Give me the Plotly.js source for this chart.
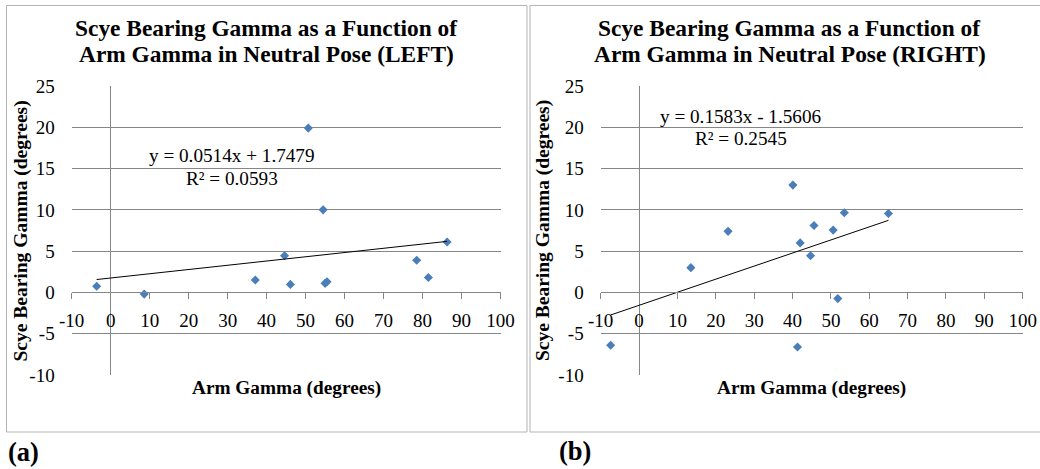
<!DOCTYPE html>
<html>
<head>
<meta charset="utf-8">
<script src="https://cdn.plot.ly/plotly-3.0.1.min.js"></script>
<style>
html,body{margin:0;padding:0;background:#fff;}
#chart{width:1040px;height:469px;}
</style>
</head>
<body>
<div id="chart"></div>
<script>
// ---- data ----
const leftX  = [-3.6, 8.6, 37.1, 44.6, 46.1, 50.7, 54.5, 55.0, 55.5, 78.5, 81.5, 86.3];
const leftY  = [0.75, -0.2, 1.5, 4.45, 0.97, 19.9, 10.0, 1.1, 1.3, 3.9, 1.8, 6.1];
const rightX = [-7.4, 13.5, 23.2, 40.1, 41.3, 42.0, 44.7, 45.6, 50.6, 51.8, 53.5, 65.0];
const rightY = [-6.4, 3.0, 7.4, 13.0, -6.6, 6.0, 4.45, 8.1, 7.55, -0.75, 9.65, 9.55];
const leftFit  = {slope: 0.0514, intercept: 1.7479, r2: '0.0593'};
const rightFit = {slope: 0.1583, intercept: -1.5606, r2: '0.2545'};
const xTickVals = [-10, 0, 10, 20, 30, 40, 50, 60, 70, 80, 90, 100];
const xTickText = ['-10', '0', '10', '20', '30', '40', '50', '60', '70', '80', '90', '100'];
const yTickVals = [-10, -5, 0, 5, 10, 15, 20, 25];
const yTickText = ['-10', '-5', '0', '5', '10', '15', '20', '25'];
const titleLeft  = ['Scye Bearing Gamma as a Function of', 'Arm Gamma in Neutral Pose (LEFT)'];
const titleRight = ['Scye Bearing Gamma as a Function of', 'Arm Gamma in Neutral Pose (RIGHT)'];
const xTitle = 'Arm Gamma (degrees)';
const yTitle = 'Scye Bearing Gamma (degrees)';
const panelLabels = ['(a)', '(b)'];

// ---- layout helpers ----
const W = 1040, H = 469;
const px = v => v / W;
const py = v => 1 - v / H;
const FONT = 'Liberation Serif';
const GRID = '#868686';
const MARK = '#4A7EBB';
const xRange = [-10, 100], yRange = [-10, 25];
const yDom = [py(375), py(86)];
const xDomL = [px(71.7), px(500.5)];
const xDomR = [px(600.7), px(1022.7)];
const zeroPos = yDom[0] + (0 - yRange[0]) / (yRange[1] - yRange[0]) * (yDom[1] - yDom[0]);

function fitLine(xs, fit) {
  const x0 = Math.min(...xs), x1 = Math.max(...xs);
  return {x: [x0, x1], y: [fit.slope * x0 + fit.intercept, fit.slope * x1 + fit.intercept]};
}
const fl = fitLine(leftX, leftFit), fr = fitLine(rightX, rightFit);
function eqLines(fit) {
  const sign = fit.intercept < 0 ? ' - ' : ' + ';
  return ['y = ' + fit.slope.toFixed(4) + 'x' + sign + Math.abs(fit.intercept).toFixed(4), 'R² = ' + fit.r2];
}

const traces = [
  {x: leftX, y: leftY, xaxis: 'x', yaxis: 'y', type: 'scatter', mode: 'markers',
   marker: {symbol: 'diamond', size: 7, color: MARK}, hoverinfo: 'none'},
  {x: fl.x, y: fl.y, xaxis: 'x', yaxis: 'y', type: 'scatter', mode: 'lines',
   line: {color: '#000', width: 1}, hoverinfo: 'none'},
  {x: rightX, y: rightY, xaxis: 'x2', yaxis: 'y2', type: 'scatter', mode: 'markers',
   marker: {symbol: 'diamond', size: 7, color: MARK}, hoverinfo: 'none'},
  {x: fr.x, y: fr.y, xaxis: 'x2', yaxis: 'y2', type: 'scatter', mode: 'lines',
   line: {color: '#000', width: 1}, hoverinfo: 'none'}
];

function xAxis(dom) {
  return {domain: dom, range: xRange, anchor: 'free', position: zeroPos,
    tickvals: xTickVals, ticktext: xTickText, showgrid: false,
    zeroline: true, zerolinecolor: GRID, zerolinewidth: 1,
    showline: true, linecolor: GRID, linewidth: 1,
    ticks: 'outside', ticklen: 6, tickcolor: GRID, tickwidth: 1, ticklabelstandoff: 5,
    tickfont: {family: FONT, size: 19, color: '#000'}, fixedrange: true};
}
function yAxis(anchor) {
  return {domain: yDom, range: yRange, anchor: anchor,
    tickvals: yTickVals, ticktext: yTickText,
    showgrid: true, gridcolor: GRID, gridwidth: 1, zeroline: false, showline: false,
    ticks: '', ticklabelstandoff: 16,
    tickfont: {family: FONT, size: 19, color: '#000'}, fixedrange: true};
}

const ann = (x, y, text, size, opts) => Object.assign({xref: 'paper', yref: 'paper', x: px(x), y: py(y),
  text: text, showarrow: false, xanchor: 'center', yanchor: 'middle',
  font: {family: FONT, size: size, color: '#000'}}, opts || {});

const eqL = eqLines(leftFit), eqR = eqLines(rightFit);
const annotations = [
  ann(266.3, 28, '<b>' + titleLeft[0] + '</b>', 23.4),
  ann(266.3, 53.5, '<b>' + titleLeft[1] + '</b>', 23.4),
  ann(789.6, 28, '<b>' + titleRight[0] + '</b>', 23.4),
  ann(789.6, 53.5, '<b>' + titleRight[1] + '</b>', 23.4),
  ann(232, 156, eqL[0], 19.2),
  ann(232, 179, eqL[1], 19.2),
  ann(741, 116, eqR[0], 19.2),
  ann(741, 138.5, eqR[1], 19.2),
  ann(286, 388, '<b>' + xTitle + '</b>', 19.3),
  ann(811.7, 388, '<b>' + xTitle + '</b>', 19.3),
  ann(20.5, 231, '<b>' + yTitle + '</b>', 19.5, {textangle: -90}),
  ann(543, 231, '<b>' + yTitle + '</b>', 19.5, {textangle: -90}),
  ann(6, 452, '<b>' + panelLabels[0] + '</b>', 26.5, {xanchor: 'left'}),
  ann(557, 451, '<b>' + panelLabels[1] + '</b>', 26.5, {xanchor: 'left'})
];

const shapes = [
  {type: 'rect', xref: 'paper', yref: 'paper', x0: px(6.5), x1: px(527), y0: py(432), y1: py(5.5),
   line: {color: '#B3B3B3', width: 1}},
  {type: 'rect', xref: 'paper', yref: 'paper', x0: px(530), x1: px(1045), y0: py(432), y1: py(5.5),
   line: {color: '#B3B3B3', width: 1}}
];

const layout = {
  width: W, height: H, margin: {l: 0, r: 0, t: 0, b: 0},
  paper_bgcolor: '#fff', plot_bgcolor: 'rgba(0,0,0,0)', showlegend: false,
  font: {family: FONT},
  xaxis: xAxis(xDomL), yaxis: yAxis('x'),
  xaxis2: xAxis(xDomR), yaxis2: yAxis('x2'),
  annotations: annotations, shapes: shapes
};

Plotly.newPlot('chart', traces, layout, {staticPlot: true, displayModeBar: false});
</script>
</body>
</html>
